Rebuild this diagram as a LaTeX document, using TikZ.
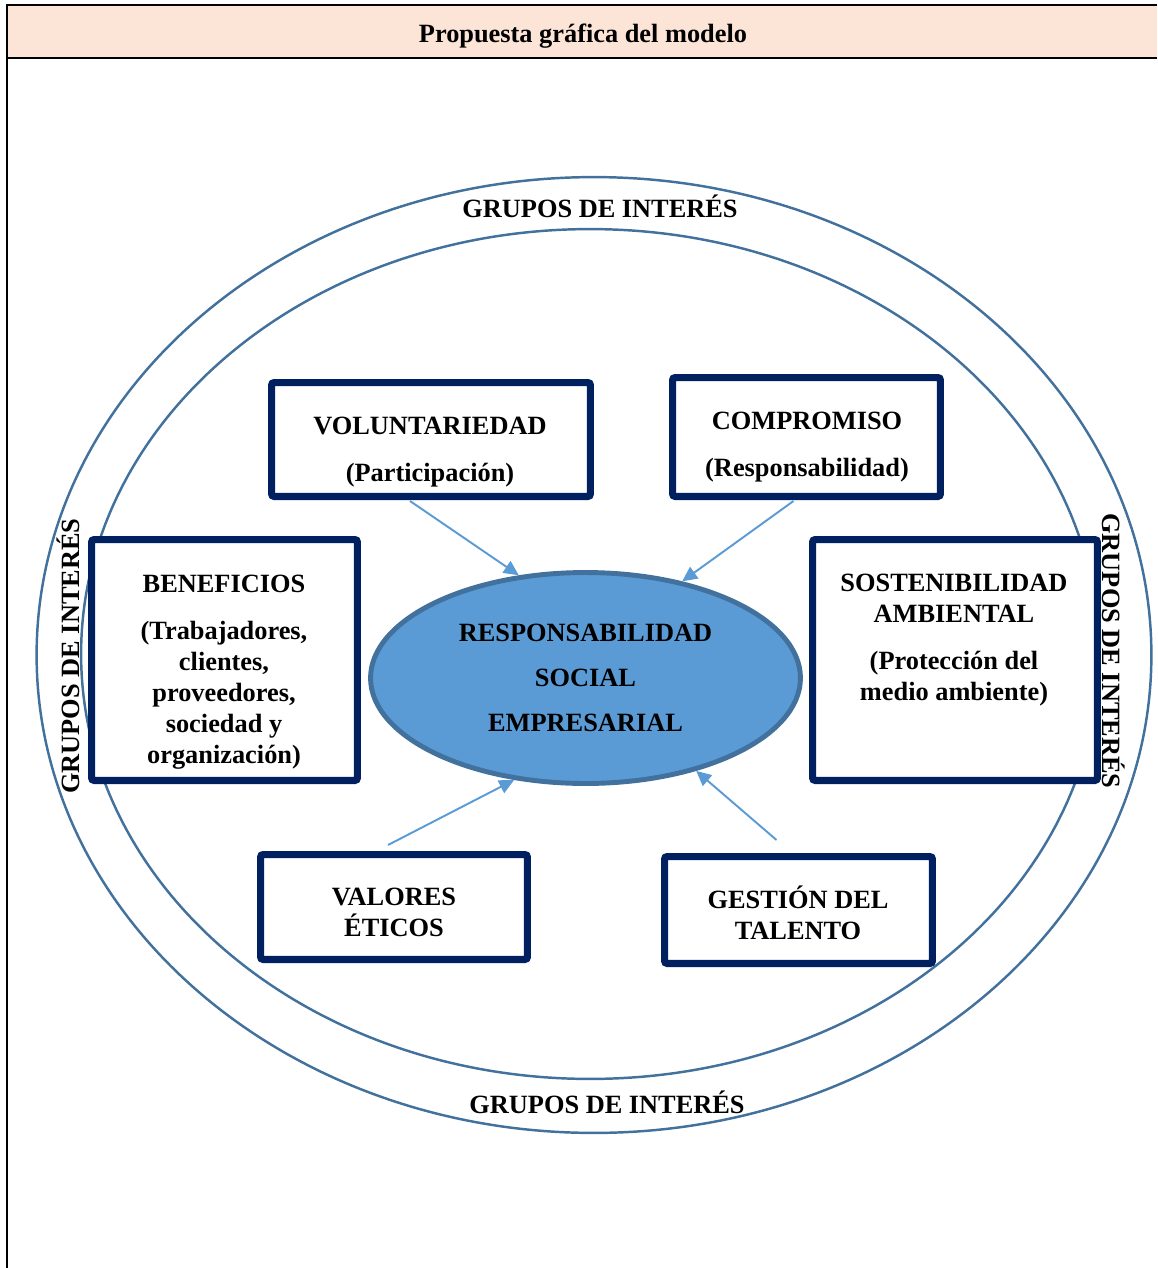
\documentclass[tikz,border=0pt]{standalone}
\usepackage{fontspec}
\setmainfont{Liberation Serif}
\usepackage{xcolor}
\usepackage{tikz}
\usetikzlibrary{shapes.geometric,arrows.meta,calc}

\definecolor{peach}{HTML}{FCE4D6}
\definecolor{navy}{HTML}{002060}
\definecolor{steel}{HTML}{41719C}
\definecolor{skyblue}{HTML}{5B9BD5}

\begin{document}
\begin{tikzpicture}[x=0.02cm, y=-0.02cm,
  frame/.style={draw=navy, fill=white, line width=4pt, rounded corners=1.5pt},
  txt/.style={font=\bfseries\fontsize{15}{17.6}\selectfont, align=center},
  arr/.style={draw=skyblue, line width=1.1pt, -{Triangle[length=8.5pt,width=8pt]}}]
\useasboundingbox (0,0) rectangle (1157,1268);

% table header
\fill[peach] (7,5) rectangle (1157,58);
\draw[line width=1.3pt] (1157,5) -- (7,5) -- (7,1268);
\draw[line width=1.6pt] (7,58) -- (1157,58);
\node[txt] (title) at (583,36) {Propuesta gráfica del modelo};

% stakeholder rings
\draw[steel, line width=1.4pt] (594,655) ellipse [x radius=11.15cm, y radius=9.56cm];
\draw[steel, line width=1.4pt] (590,654) ellipse [x radius=10.18cm, y radius=8.5cm];

\node[txt] (gtop) at (600,206) {GRUPOS DE INTERÉS};
\node[txt] (gbot) at (607,1102) {GRUPOS DE INTERÉS};
\node[txt, rotate=90] (gleft) at (68,656) {GRUPOS DE INTERÉS};
\node[txt, rotate=-90] (gright) at (1114,651) {GRUPOS DE INTERÉS};

% boxes
\node[frame, minimum width=6.38cm, minimum height=2.28cm] (vol) at (431,439.5) {};
\node[frame, minimum width=5.36cm, minimum height=2.38cm] (comp) at (806.5,437) {};
\node[frame, minimum width=5.32cm, minimum height=4.82cm] (ben) at (224.5,660) {};
\node[frame, minimum width=5.7cm, minimum height=4.82cm] (sos) at (955,660) {};
\node[frame, minimum width=5.34cm, minimum height=2.1cm] (val) at (394,907) {};
\node[frame, minimum width=5.36cm, minimum height=2.14cm] (ges) at (798.5,910) {};

\node[txt] (voltxt) at (430,452) {VOLUNTARIEDAD\\[9pt](Participación)};
\node[txt] (comptxt) at (807,447) {COMPROMISO\\[9pt](Responsabilidad)};
\node[txt] (bentxt) at (224,672) {BENEFICIOS\\[9pt](Trabajadores,\\clientes,\\proveedores,\\sociedad y\\organización)};
\node[txt] (sostxt) at (954,640) {SOSTENIBILIDAD\\AMBIENTAL\\[9pt](Protección del\\medio ambiente)};
\node[txt] (valtxt) at (394,912) {VALORES\\ÉTICOS};
\node[txt] (gestxt) at (798,913) {GESTIÓN DEL\\TALENTO};

% centre
\node[ellipse, fill=skyblue, draw=steel, line width=2.8pt, minimum width=8.6cm, minimum height=4.22cm,
  align=center, font=\bfseries\fontsize{15}{25.6}\selectfont] (rse) at (585.5,678)
  {RESPONSABILIDAD\\SOCIAL\\EMPRESARIAL};

% arrows into the centre
\draw[arr] ($(vol.south)+(-21,1)$) -- (rse.123);
\draw[arr] ($(comp.south)+(-13,1)$) -- (rse.45);
\draw[arr] ($(val.north)+(-6,-6)$) -- (rse.235);
\draw[arr] ($(ges.north)+(-22,-13)$) -- (rse.320);

\end{tikzpicture}
\end{document}
